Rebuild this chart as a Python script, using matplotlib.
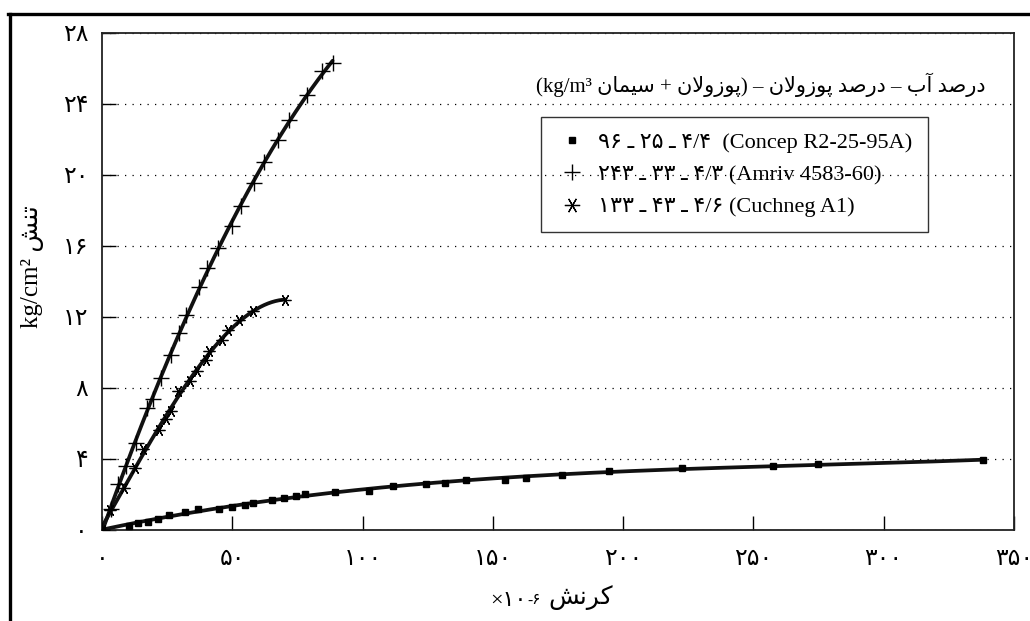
import numpy as np
import matplotlib
matplotlib.use("Agg")
import matplotlib.pyplot as plt
from matplotlib.lines import Line2D

plt.rcParams["font.family"] = ["Liberation Serif", "DejaVu Sans"]

# Strain (x10^-6) and stress (kg/cm2) readings for the three mixes
concep_strain = [0, 10.5, 13.7, 17.6, 21.4, 25.9, 32.0, 36.8, 44.8, 49.9, 54.7, 57.9,
                 65.1, 70.0, 74.5, 77.9, 89.6, 102.6, 111.5, 124.4, 131.8, 139.7,
                 154.8, 162.7, 176.5, 194.7, 222.5, 257.7, 274.6, 338.1]
concep_stress = [0, 0.24, 0.38, 0.47, 0.62, 0.85, 1.03, 1.19, 1.21, 1.32, 1.41, 1.54,
                 1.69, 1.79, 1.94, 2.02, 2.13, 2.20, 2.49, 2.60, 2.64, 2.82,
                 2.82, 2.95, 3.10, 3.35, 3.50, 3.62, 3.71, 3.92]

amriv_strain = [0, 3.3, 6.3, 9.4, 13.2, 17.3, 19.5, 22.8, 26.4, 29.6, 32.2, 37.4,
                40.2, 44.4, 49.9, 53.4, 58.5, 62.3, 67.7, 71.7, 78.6, 84.5, 88.5]
amriv_stress = [0, 1.19, 2.60, 3.58, 4.90, 6.90, 7.40, 8.58, 9.84, 11.10, 12.13, 13.71,
                14.78, 15.91, 17.10, 18.27, 19.55, 20.72, 22.00, 23.12, 24.48, 25.84, 26.31]

cuchneg_strain = [0, 2.9, 8.6, 12.5, 15.7, 22.0, 24.6, 26.3, 29.2, 33.7, 36.4, 40.0,
                  41.2, 46.2, 48.3, 52.5, 58.1, 70.3]
cuchneg_stress = [0, 1.13, 2.34, 3.47, 4.55, 5.65, 6.28, 6.70, 7.83, 8.40, 8.96, 9.58,
                  10.09, 10.73, 11.26, 11.83, 12.33, 12.95]

x_ticks = [0, 50, 100, 150, 200, 250, 300, 350]
y_ticks = [0, 4, 8, 12, 16, 20, 24, 28]

concep_label = "۹۶ ـ ۲۵ ـ ۴/۴  (Concep R2-25-95A)"
amriv_label = "۲۴۳ ـ ۳۳ ـ ۴/۳ (Amriv 4583-60)"
cuchneg_label = "۱۳۳ ـ ۴۳ ـ ۴/۶ (Cuchneg A1)"

# --- Persian text helpers (contextual forms, right-to-left order) ---
_FORMS = {
    "ا": ("\ufe8d", "\ufe8e", None, None),
    "آ": ("\ufe81", "\ufe82", None, None),
    "ب": ("\ufe8f", "\ufe90", "\ufe91", "\ufe92"),
    "پ": ("\ufb56", "\ufb57", "\ufb58", "\ufb59"),
    "ت": ("\ufe95", "\ufe96", "\ufe97", "\ufe98"),
    "د": ("\ufea9", "\ufeaa", None, None),
    "ر": ("\ufead", "\ufeae", None, None),
    "ز": ("\ufeaf", "\ufeb0", None, None),
    "س": ("\ufeb1", "\ufeb2", "\ufeb3", "\ufeb4"),
    "ش": ("\ufeb5", "\ufeb6", "\ufeb7", "\ufeb8"),
    "ص": ("\ufeb9", "\ufeba", "\ufebb", "\ufebc"),
    "ک": ("\ufb8e", "\ufb8f", "\ufb90", "\ufb91"),
    "ل": ("\ufedd", "\ufede", "\ufedf", "\ufee0"),
    "م": ("\ufee1", "\ufee2", "\ufee3", "\ufee4"),
    "ن": ("\ufee5", "\ufee6", "\ufee7", "\ufee8"),
    "و": ("\ufeed", "\ufeee", None, None),
    "ی": ("\ufbfc", "\ufbfd", "\ufbfe", "\ufbff"),
}
_LAM_ALEF = ("\ufefb", "\ufefc")


def persian(word):
    out = []
    i = 0
    prev_joins = False
    while i < len(word):
        ch = word[i]
        if ch == "ل" and i + 1 < len(word) and word[i + 1] == "ا":
            out.append(_LAM_ALEF[1 if prev_joins else 0])
            prev_joins = False
            i += 2
            continue
        forms = _FORMS.get(ch)
        if forms is None:
            out.append(ch)
            prev_joins = False
            i += 1
            continue
        nxt = word[i + 1] if i + 1 < len(word) else None
        next_joins = forms[2] is not None and nxt in _FORMS
        if prev_joins and next_joins:
            g = forms[3]
        elif prev_joins:
            g = forms[1]
        elif next_joins:
            g = forms[2]
        else:
            g = forms[0]
        out.append(g)
        prev_joins = next_joins
        i += 1
    return "".join(reversed(out))


_FA_DIGITS = str.maketrans("0123456789", "۰۱۲۳۴۵۶۷۸۹")


def fa_num(v):
    return str(v).translate(_FA_DIGITS)


# --- figure ---
W, H = 1030, 621
fig = plt.figure(figsize=(W / 100, H / 100), dpi=100)
ax = fig.add_axes([102 / W, 1 - 530 / H, (1014 - 102) / W, (530 - 33) / H])

line_kw = dict(color="#111111", lw=2.7, solid_capstyle="round", zorder=3)
for xs, ys, deg in [(concep_strain, concep_stress, 3),
                    (amriv_strain, amriv_stress, 2),
                    (cuchneg_strain, cuchneg_stress, 3)]:
    coef = np.polyfit(xs, ys, deg)
    xx = np.linspace(0, max(xs), 300)
    ax.plot(xx, np.polyval(coef, xx), **line_kw)

ax.plot(concep_strain, concep_stress, ls="none", marker="s", ms=3.8,
        mfc="black", mec="black", zorder=4, label=concep_label)
ax.plot(amriv_strain, amriv_stress, ls="none", marker="+", ms=12, mew=1.0,
        color="black", zorder=4, label=amriv_label)
ax.plot(cuchneg_strain, cuchneg_stress, ls="none", marker=(6, 2, 90), ms=8.5, mew=0.9,
        color="black", zorder=4, label=cuchneg_label)

ax.set_xlim(0, 350)
ax.set_ylim(0, 28)
ax.set_xticks(x_ticks)
ax.set_xticklabels([fa_num(v) for v in x_ticks])
ax.set_yticks(y_ticks)
ax.set_yticklabels([fa_num(v) for v in y_ticks])
ax.tick_params(axis="x", direction="in", length=10, width=1.0, pad=14, labelsize=17)
ax.tick_params(axis="y", direction="in", length=10, width=1.0, pad=10, labelsize=17)
for sp in ax.spines.values():
    sp.set_linewidth(1.3)
    sp.set_color("#222222")
ax.grid(axis="y", linestyle=(0, (1, 5)), color="black", lw=0.9)
ax.set_axisbelow(True)

leg = ax.legend(loc="upper left", bbox_to_anchor=(541 / W, 1 - 117 / H),
                bbox_transform=fig.transFigure, borderaxespad=0, frameon=True,
                fancybox=False, framealpha=1, facecolor="none", edgecolor="#333333",
                fontsize=16, borderpad=0.68, labelspacing=0.53,
                handlelength=1.4, handletextpad=0.5)
leg.get_frame().set_linewidth(1.0)
for h in leg.legend_handles:
    if h.get_marker() == (6, 2, 90):
        h.set_markersize(11)

# heading above the legend
heading = ("(kg/m³ " + persian("سیمان") + " + " + persian("پوزولان") + ") – "
           + persian("پوزولان") + " " + persian("درصد") + " – "
           + persian("آب") + " " + persian("درصد"))
fig.text(985 / W, 1 - 85 / H, heading, ha="right", va="center", fontsize=15)

# y-axis title
fig.text(32 / W, 1 - 267 / H, "kg/cm² " + persian("تنش"), rotation=90,
         ha="center", va="center", fontsize=18)

# x-axis title: ×۱۰ with raised exponent, then the word
t1 = fig.text(490 / W, 1 - 606 / H, "×۱۰", ha="left", va="baseline", fontsize=16)
t2 = ax.annotate("-۶", xy=(1, 1), xycoords=t1, xytext=(1, -6),
                 textcoords="offset points", ha="left", va="center", fontsize=11,
                 annotation_clip=False)
ax.annotate(persian("کرنش"), xy=(1, 0), xycoords=t2, xytext=(5, -2),
            textcoords="offset points", ha="left", va="bottom", fontsize=18,
            annotation_clip=False)

# outer frame (top and left edges)
fig.add_artist(Line2D([8 / W, 1], [1 - 13.5 / H, 1 - 13.5 / H],
                      transform=fig.transFigure, color="black", lw=2.4))
fig.add_artist(Line2D([9.5 / W, 9.5 / W], [0, 1 - 13.5 / H],
                      transform=fig.transFigure, color="black", lw=2.4))

fig.savefig("out.png", dpi=100)
